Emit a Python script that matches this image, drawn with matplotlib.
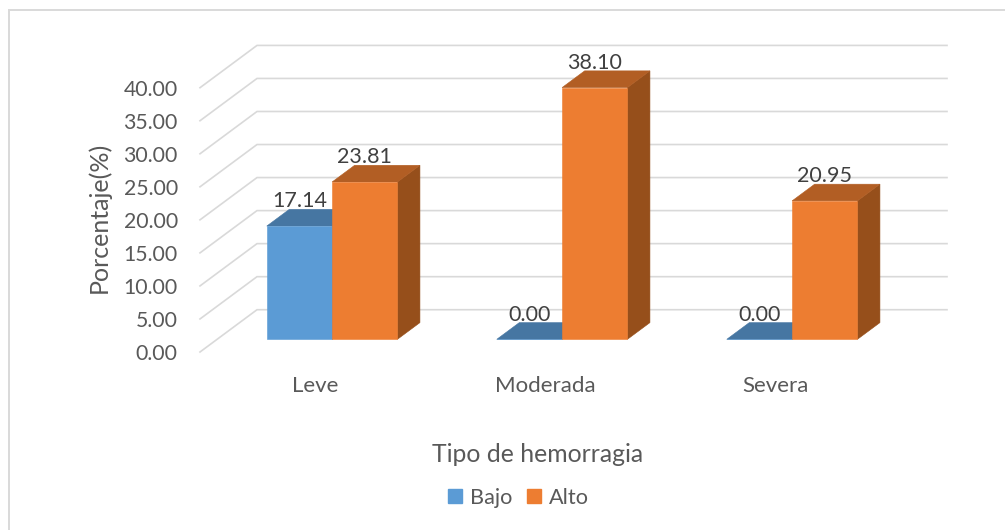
import matplotlib
matplotlib.use('Agg')
import matplotlib.pyplot as plt
from matplotlib.lines import Line2D
from matplotlib.patches import Patch

plt.rcParams['font.family'] = ['Lato', 'DejaVu Sans']

# Chart data
categories = ['Leve', 'Moderada', 'Severa']
bajo = [17.14, 0.00, 0.00]
alto = [23.81, 38.10, 20.95]
y_ticks = [0, 5, 10, 15, 20, 25, 30, 35, 40]

W, H = 1005, 530
GRID = '#d9d9d9'
TEXT = '#595959'
LABEL = '#404040'

fig = plt.figure(figsize=(W / 100, H / 100), dpi=100)
fig.patch.set_facecolor('white')

# Axes span the front plane of the 3D box
left, right, top, bottom = 200, 890, 87.7, 352
ax = fig.add_axes([left / W, 1 - bottom / H, (right - left) / W, (bottom - top) / H])
ax.set_xlim(-0.5, 2.5)
ax.set_ylim(0, 40)
ax.patch.set_visible(False)
for s in ax.spines.values():
    s.set_visible(False)

# Oblique projection: depth 0 is the front plane, depth 1 the back wall
DX = 57 / 230
DY = 42.3 / 6.61


def proj(x, y, d):
    return x + d * DX, y + d * DY


# Gridlines on the left wall and the back wall
for v in y_ticks:
    x0, y0 = proj(-0.5, v, 0)
    x1, y1 = proj(-0.5, v, 1)
    x2, y2 = proj(2.5, v, 1)
    ax.plot([x0, x1, x2], [y0, y1, y2], color=GRID, lw=1.2, clip_on=False,
            solid_joinstyle='miter', zorder=1)

BAR_W = 0.284
D0, D1 = 0.30, 0.695


def bar3d(xl, val, front, top_c, side):
    xr = xl + BAR_W
    pts_side = [proj(xr, 0, D0), proj(xr, 0, D1), proj(xr, val, D1), proj(xr, val, D0)]
    pts_top = [proj(xl, val, D0), proj(xr, val, D0), proj(xr, val, D1), proj(xl, val, D1)]
    pts_front = [proj(xl, 0, D0), proj(xr, 0, D0), proj(xr, val, D0), proj(xl, val, D0)]
    for pts, c in ((pts_side, side), (pts_top, top_c), (pts_front, front)):
        ax.fill(*zip(*pts), color=c, lw=0.4, clip_on=False, zorder=2)
    # value sits just above the back edge of the top face
    lx = proj(xl + BAR_W / 2, val, D0)[0]
    ly = proj(xl, val, D1)[1] + 0.3
    ax.text(lx, ly, f'{val:.2f}', ha='center', va='baseline', fontsize=15.5,
            color=LABEL, clip_on=False, zorder=5)


for i in range(len(categories)):
    bar3d(i - BAR_W, bajo[i], '#5b9bd5', '#4676a2', '#3b6387')
    bar3d(i, alto[i], '#ed7d31', '#b25e24', '#964f1b')

ax.set_xticks(range(len(categories)))
ax.set_xticklabels(categories)
ax.set_yticks(y_ticks)
ax.set_yticklabels([f'{v:.2f}' for v in y_ticks])
ax.tick_params(axis='x', length=0, labelsize=16, labelcolor=TEXT, pad=17)
ax.tick_params(axis='y', length=0, labelsize=15.3, labelcolor=TEXT, pad=16)

fig.text(98.5 / W, 1 - 217 / H, 'Porcentaje(%)', rotation=90, ha='center', va='center',
         fontsize=18, color=TEXT)
fig.text(538 / W, 1 - 454.5 / H, 'Tipo de hemorragia', ha='center', va='center',
         fontsize=17.8, color=TEXT)

handles = [Patch(color='#5b9bd5', label='Bajo'), Patch(color='#ed7d31', label='Alto')]
fig.legend(handles=handles, loc='center', bbox_to_anchor=(518.5 / W, 1 - 498 / H), ncols=2,
           frameon=False, fontsize=15.6, labelcolor=TEXT, handlelength=0.62, handleheight=0.62,
           handletextpad=0.35, columnspacing=0.72)

# Chart area border, only the top and left edges fall inside the image
border = Line2D([9 / W, 9 / W, 1], [0, 1 - 9.5 / H, 1 - 9.5 / H], transform=fig.transFigure,
                color=GRID, lw=1.4, solid_joinstyle='miter')
fig.add_artist(border)

fig.savefig('out.png', dpi=100)
